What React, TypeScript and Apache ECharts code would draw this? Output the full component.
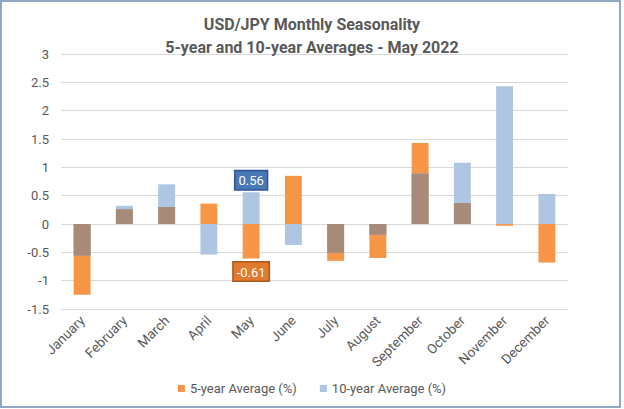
import React, { useEffect, useRef } from "react";
import * as echarts from "echarts";

const months = ["January", "February", "March", "April", "May", "June", "July", "August", "September", "October", "November", "December"];
const fiveYear = [-1.25, 0.26, 0.30, 0.36, -0.61, 0.85, -0.65, -0.60, 1.43, 0.37, -0.03, -0.68];
const tenYear = [-0.56, 0.32, 0.70, -0.54, 0.56, -0.37, -0.51, -0.19, 0.89, 1.08, 2.43, 0.53];

const ORANGE = "#F79646";
const BLUE = "#AFC6E3";
const BROWN = "#A88A79";
const FONT = "Roboto";

export default function App() {
  const ref = useRef<HTMLDivElement>(null);
  useEffect(() => {
    if (!ref.current) return;
    const chart = echarts.init(ref.current, null, { renderer: "svg" });
    const overlap = fiveYear.map((a, i) => {
      const b = tenYear[i];
      if (a * b <= 0) return 0;
      return Math.sign(a) * Math.min(Math.abs(a), Math.abs(b));
    });
    const labelIdx = 4;
    chart.setOption({
      animation: false,
      textStyle: { fontFamily: FONT },
      title: {
        text: "USD/JPY Monthly Seasonality\n5-year and 10-year Averages - May 2022",
        left: "center",
        top: 8,
        textStyle: { fontFamily: FONT, fontSize: 16, fontWeight: "bold", color: "#595959", lineHeight: 23 },
      },
      legend: {
        data: ["5-year Average (%)", "10-year Average (%)"],
        bottom: 9,
        left: "center",
        icon: "rect",
        itemWidth: 7,
        itemHeight: 7,
        itemGap: 23,
        textStyle: { fontFamily: FONT, fontSize: 13, color: "#595959" },
      },
      grid: { left: 61, right: 56, top: 54, bottom: 100 },
      xAxis: {
        type: "category",
        data: months,
        axisLine: { show: false },
        axisTick: { show: false },
        axisLabel: { rotate: 45, fontFamily: FONT, fontSize: 13.5, color: "#595959", margin: 9, interval: 0 },
      },
      yAxis: {
        type: "value",
        min: -1.5,
        max: 3,
        interval: 0.5,
        axisLine: { show: false },
        axisTick: { show: false },
        splitLine: { lineStyle: { color: "#D9D9D9", width: 1 } },
        axisLabel: { fontFamily: FONT, fontSize: 13, color: "#595959", margin: 12 },
      },
      series: [
        {
          name: "5-year Average (%)",
          type: "bar",
          barGap: "-100%",
          barCategoryGap: "60%",
          itemStyle: { color: ORANGE },
          data: fiveYear.map((v, i) =>
            i === labelIdx
              ? {
                  value: v,
                  label: {
                    show: true,
                    position: "bottom",
                    distance: 4,
                    formatter: "{c}",
                    color: "#fff",
                    fontFamily: FONT,
                    fontSize: 13,
                    backgroundColor: "#E07A2E",
                    borderColor: "#A85A1E",
                    borderWidth: 1.5,
                    padding: [3, 3, 2, 3],
                  },
                }
              : v
          ),
        },
        {
          name: "10-year Average (%)",
          type: "bar",
          barGap: "-100%",
          barCategoryGap: "60%",
          itemStyle: { color: BLUE },
          data: tenYear.map((v, i) =>
            i === labelIdx
              ? {
                  value: v,
                  label: {
                    show: true,
                    position: "top",
                    distance: 3,
                    formatter: "{c}",
                    color: "#fff",
                    fontFamily: FONT,
                    fontSize: 13,
                    backgroundColor: "#4A78B4",
                    borderColor: "#2F5597",
                    borderWidth: 1.5,
                    padding: [3, 3, 2, 3],
                  },
                }
              : v
          ),
        },
        {
          name: "overlap",
          type: "bar",
          barGap: "-100%",
          barCategoryGap: "60%",
          itemStyle: { color: BROWN },
          data: overlap,
        },
      ],
      graphic: [
        {
          type: "rect",
          shape: { x: 1, y: 1, width: 619, height: 406 },
          style: { fill: "none", stroke: "#8EA8C6", lineWidth: 2 },
          silent: true,
        },
      ],
    });
    return () => chart.dispose();
  }, []);
  return <div ref={ref} style={{ position: "fixed", left: 0, top: 0, width: 624, height: 409, background: "#fff" }} />;
}
